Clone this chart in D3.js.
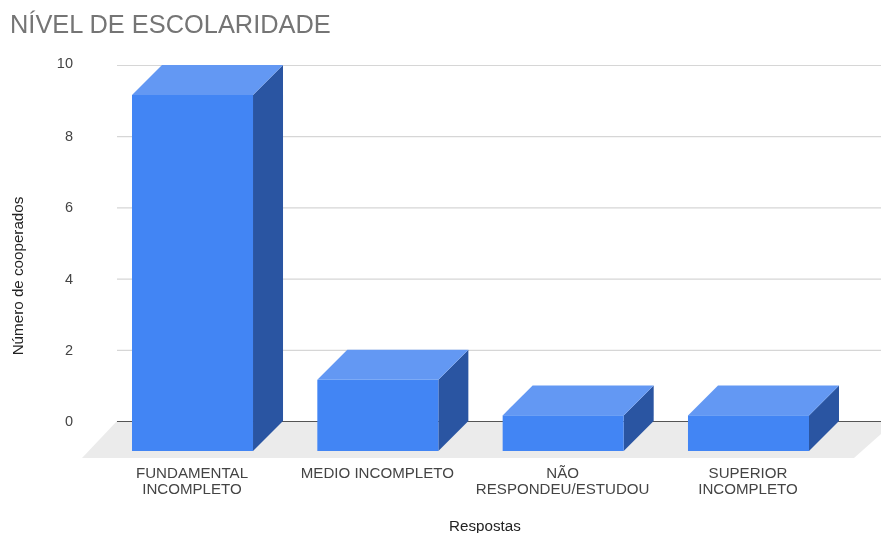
<!DOCTYPE html>
<html><head><meta charset="utf-8">
<script src="https://cdn.jsdelivr.net/npm/d3@7"></script>
<style>html,body{margin:0;padding:0;background:#fff}svg{display:block;font-family:"Liberation Sans",Arial,sans-serif;filter:blur(.4px)}</style>
</head><body><div id="c"></div>
<script>
const categories=["FUNDAMENTAL INCOMPLETO","MEDIO INCOMPLETO","NÃO RESPONDEU/ESTUDOU","SUPERIOR INCOMPLETO"];
const categoryLines=[["FUNDAMENTAL","INCOMPLETO"],["MEDIO INCOMPLETO"],["NÃO","RESPONDEU/ESTUDOU"],["SUPERIOR","INCOMPLETO"]];
const values=[10,2,1,1];
const yTicks=[0,2,4,6,8,10];
const titleText="NÍVEL DE ESCOLARIDADE", xTitle="Respostas", yTitle="Número de cooperados";

const W=881,H=533,depth=30;
const svg=d3.select("#c").append("svg").attr("width",W).attr("height",H);
const y=d3.scaleLinear().domain([0,10]).range([421,65]);
const x=d3.scaleBand().domain(categories).range([132,809]).paddingInner(.347).paddingOuter(0);

svg.append("text").attr("x",10).attr("y",33).attr("font-size",25.4).attr("fill","#757575").text(titleText);

svg.append("polygon").attr("fill","#ebebeb")
  .attr("points",[[117,y(0)],[881,y(0)],[881,434],[854,458],[82,458]].join(" "));

svg.append("g").selectAll("line").data(yTicks).join("line")
  .attr("x1",117).attr("x2",881).attr("y1",d=>y(d)+.5).attr("y2",d=>y(d)+.5)
  .attr("stroke",d=>d===0?"#555":"#d6d6d6").attr("stroke-width",1.2);
svg.append("g").selectAll("text").data(yTicks).join("text")
  .attr("x",73).attr("y",d=>y(d)+(d===10?3:5)).attr("text-anchor","end").attr("font-size",14.5).attr("fill","#444").text(d=>d);

const bars=svg.append("g").selectAll("g").data(categories).join("g");
const bw=x.bandwidth();
const base=y(0)+depth;
bars.append("polygon").attr("fill","#2a55a2")
  .attr("points",(c,i)=>{const r=x(c)+bw,t=y(values[i])+depth;return [[r,t],[r+depth,t-depth],[r+depth,base-depth],[r,base]].join(" ");});
bars.append("polygon").attr("fill","#6398f3")
  .attr("points",(c,i)=>{const l=x(c),r=l+bw,t=y(values[i])+depth;return [[l,t],[l+depth,t-depth],[r+depth,t-depth],[r,t]].join(" ");});
bars.append("rect").attr("fill","#4285f4")
  .attr("x",c=>x(c)).attr("width",bw).attr("y",(c,i)=>y(values[i])+depth).attr("height",(c,i)=>base-y(values[i])-depth);

const lab=svg.append("g").selectAll("text").data(categories).join("text")
  .attr("text-anchor","middle").attr("font-size",15.1).attr("fill","#444")
  .attr("transform",c=>`translate(${x(c)+bw/2-.5},0)`);
lab.selectAll("tspan").data((c,i)=>categoryLines[i]).join("tspan")
  .attr("x",0).attr("y",(d,j)=>478+j*16).text(d=>d);

svg.append("text").attr("x",485).attr("y",531).attr("text-anchor","middle").attr("font-size",15.2).attr("fill","#222").text(xTitle);
svg.append("text").attr("transform","translate(22.5,276) rotate(-90)").attr("text-anchor","middle").attr("font-size",15.2).attr("fill","#222").text(yTitle);
</script></body></html>
